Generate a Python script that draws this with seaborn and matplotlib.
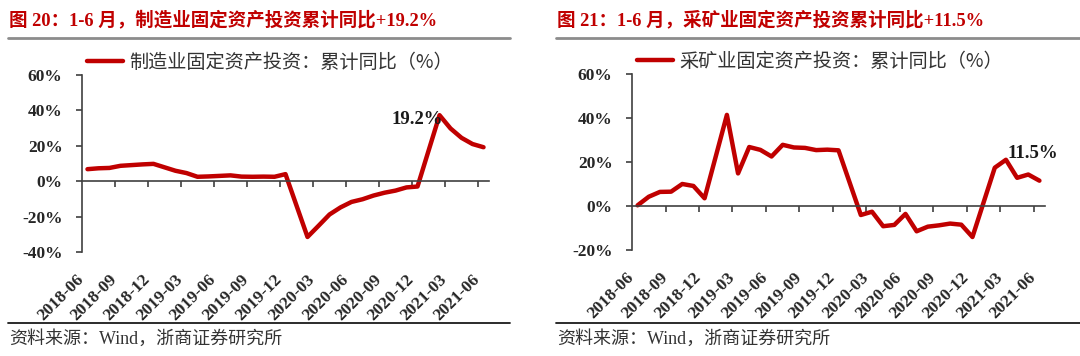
import numpy as np
import pandas as pd
import matplotlib
matplotlib.use("Agg")
import matplotlib.pyplot as plt
from matplotlib.lines import Line2D
from matplotlib.ticker import FixedLocator, FuncFormatter, NullLocator
import seaborn as sns

# 月度类别：2018-06 至 2021-06（1月无单月数据，留空）
months = [str(p) for p in pd.period_range("2018-06", "2021-06", freq="M")]
tick_labels = months[::3]

# 制造业固定资产投资：累计同比（%）
mfg_yoy = [6.8, 7.3, 7.5, 8.7, 9.1, 9.5, 9.8, None, 5.9, 4.6, 2.5, 2.7, 3.0,
           3.3, 2.6, 2.5, 2.6, 2.5, 4.0, None, -31.5, -25.2, -18.8, -14.8,
           -11.7, -10.2, -8.1, -6.5, -5.3, -3.5, -3.0, None, 37.3, 29.8,
           24.5, 21.0, 19.2]

# 采矿业固定资产投资：累计同比（%）
mining_yoy = [0.3, 4.2, 6.4, 6.5, 10.0, 9.1, 3.5, None, 41.4, 14.8, 26.8,
              25.5, 22.5, 27.8, 26.6, 26.4, 25.4, 25.6, 25.3, None, -4.1,
              -2.6, -9.2, -8.6, -3.6, -11.5, -9.4, -8.8, -8.0, -8.5, -14.1,
              None, 17.4, 21.0, 12.8, 14.3, 11.5]

titles = ["图 20：1-6 月，制造业固定资产投资累计同比+19.2%",
          "图 21：1-6 月，采矿业固定资产投资累计同比+11.5%"]
legend_names = ["制造业固定资产投资：累计同比（%）",
                "采矿业固定资产投资：累计同比（%）"]
last_labels = ["19.2%", "11.5%"]
source_text = "资料来源：Wind，浙商证券研究所"

RED = "#C00000"
FONTS = ["Liberation Serif", "Noto Sans CJK SC", "DejaVu Sans"]

sns.set_theme(style="white")
plt.rcParams["font.family"] = FONTS
plt.rcParams["axes.unicode_minus"] = False


def draw_panel(ax, values, name, label, label_pos, label_ha, ylim):
    df = pd.DataFrame({"idx": np.arange(len(months)), "val": values}).dropna()
    sns.lineplot(data=df, x="idx", y="val", ax=ax, color=RED, linewidth=3.2,
                 label=name, solid_joinstyle="round", solid_capstyle="round")

    ax.set_xlim(-0.5, len(months) - 0.5)
    ax.set_ylim(*ylim)
    ax.set_xlabel("")
    ax.set_ylabel("")

    # y 轴
    ax.yaxis.set_major_locator(FixedLocator(np.arange(ylim[0], ylim[1] + 1, 20)))
    ax.yaxis.set_major_formatter(FuncFormatter(lambda v, p: f"{v:.0f}%"))
    ax.tick_params(axis="y", left=True, length=4, width=1.2, color="#404040",
                   direction="out", pad=10, labelsize=12.5)
    for t in ax.get_yticklabels():
        t.set_fontweight("bold")

    # x 轴线在 0 处，刻度在类别之间
    for s in ["top", "right"]:
        ax.spines[s].set_visible(False)
    ax.spines["left"].set_color("#404040")
    ax.spines["left"].set_linewidth(1.2)
    ax.spines["bottom"].set_position(("data", 0))
    ax.spines["bottom"].set_color("#404040")
    ax.spines["bottom"].set_linewidth(1.2)
    ax.xaxis.set_major_locator(NullLocator())
    ax.xaxis.set_minor_locator(FixedLocator(np.arange(2.5, len(months), 3)))
    ax.tick_params(axis="x", which="minor", bottom=True, length=4, width=1.2,
                   color="#404040", direction="out", labelbottom=False)

    # 日期标签放在图底部
    sec = ax.secondary_xaxis("bottom")
    sec.set_xticks(np.arange(0, len(months), 3), labels=tick_labels)
    sec.tick_params(length=0, pad=14, labelsize=12.5)
    sec.spines["bottom"].set_visible(False)
    for t in sec.get_xticklabels():
        t.set_rotation(45)
        t.set_ha("right")
        t.set_va("top")
        t.set_fontweight("bold")

    ax.text(label_pos[0], label_pos[1], label, ha=label_ha, va="center",
            fontsize=13.5, fontweight="bold", color="#1a1a1a", clip_on=False)

    leg = ax.legend(loc="center left", bbox_to_anchor=(0.012, 1.07),
                    frameon=False, borderaxespad=0, borderpad=0,
                    handlelength=1.9, handletextpad=0.3,
                    prop={"family": ["Noto Sans CJK SC", "DejaVu Sans"], "size": 13.8})
    for t in leg.get_texts():
        t.set_color("#333333")


fig = plt.figure(figsize=(10.8, 3.56), dpi=100)
ax1 = fig.add_axes([0.0759, 0.2921, 0.3769, 0.4972])
ax2 = fig.add_axes([0.5852, 0.2978, 0.3824, 0.4944])

draw_panel(ax1, mfg_yoy, legend_names[0], last_labels[0], (32.3, 35), "right", (-40, 60))
draw_panel(ax2, mining_yoy, legend_names[1], last_labels[1], (33.1, 24), "left", (-20, 60))

# 标题、分隔线、资料来源
for x0, x1, title in [(0.007, 0.472, titles[0]), (0.515, 1.0, titles[1])]:
    fig.text(x0 + 0.001, 0.944, title, ha="left", va="center", fontsize=13.3,
             fontweight="bold", color=RED, family=FONTS)
    fig.add_artist(Line2D([x0, x1], [0.893, 0.893], color="#8c8c8c", linewidth=2))
    fig.add_artist(Line2D([x0, x1], [0.093, 0.093], color="#1a1a1a", linewidth=1.3))
    fig.text(x0 + 0.001, 0.047, source_text, ha="left", va="center", fontsize=13,
             color="#333333", family=FONTS)

fig.savefig("out.png", dpi=100)
